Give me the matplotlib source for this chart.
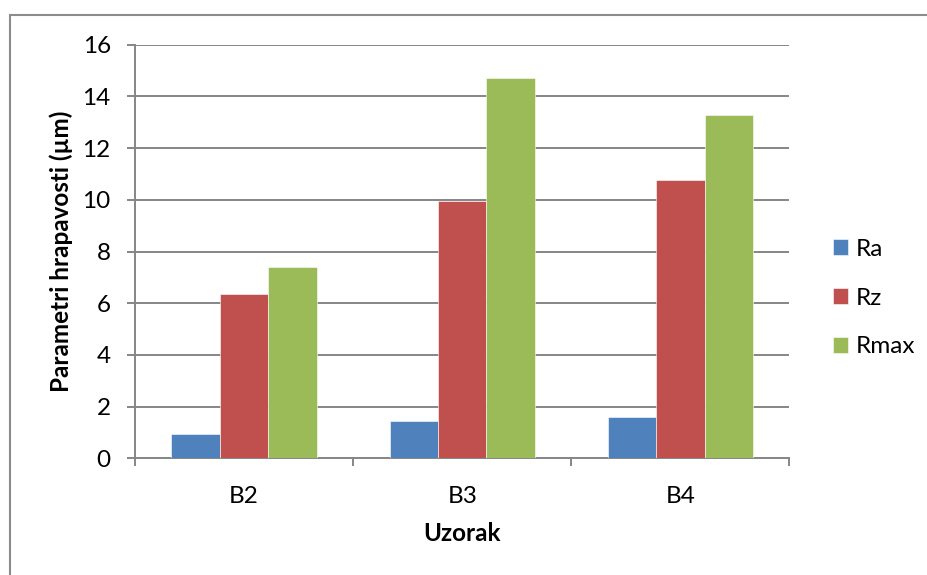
import numpy as np
import matplotlib
matplotlib.use("Agg")
import matplotlib.pyplot as plt
from matplotlib.patches import Rectangle

plt.rcParams["font.family"] = ["Lato", "DejaVu Sans"]

samples = ["B2", "B3", "B4"]
series_names = ["Ra", "Rz", "Rmax"]
ra_vals = [0.94, 1.46, 1.60]
rz_vals = [6.35, 9.97, 10.77]
rmax_vals = [7.39, 14.73, 13.28]
colors = ["#4F81BD", "#C0504D", "#9BBB59"]

W, H = 928, 575
fig = plt.figure(figsize=(W / 100, H / 100), dpi=100)
ax = fig.add_axes([135 / W, 1 - 458.3 / H, (789.5 - 135) / W, (458.3 - 44.7) / H])

# Rahmen um das Diagramm (rechts und unten abgeschnitten)
fig.patches.append(Rectangle((10 / W, -0.2), 1.5, 1.2 - 15 / H, transform=fig.transFigure,
                             fill=False, edgecolor="#8c8c8c", linewidth=1.5))

grid_color = "#868686"
x = np.arange(len(samples)) + 0.5
bar_w = 1 / 4.5
for i, (name, vals) in enumerate(zip(series_names, [ra_vals, rz_vals, rmax_vals])):
    ax.bar(x + (i - 1) * bar_w, vals, width=bar_w, color=colors[i], label=name,
           edgecolor="white", linewidth=0.4, zorder=3)

ax.set_xlim(0, 3)
ax.set_ylim(0, 16)
ax.set_yticks(np.arange(0, 17, 2))
ax.set_xticks(x)
ax.set_xticklabels(samples)
ax.set_xticks([0, 1, 2, 3], minor=True)

ax.yaxis.grid(True, color=grid_color, linewidth=1.4, zorder=0)
ax.set_axisbelow(True)
for side in ["top", "right"]:
    ax.spines[side].set_visible(False)
for side in ["left", "bottom"]:
    ax.spines[side].set_color(grid_color)
    ax.spines[side].set_linewidth(1.4)

ax.tick_params(axis="y", length=6, width=1.4, color=grid_color, pad=11.5, labelsize=17.5)
ax.tick_params(axis="x", which="major", length=0, pad=20, labelsize=17.5)
ax.tick_params(axis="x", which="minor", length=6, width=1.4, color=grid_color)

ax.set_ylabel("Parametri hrapavosti (µm)", fontsize=17.5, fontweight="bold", va="center")
ax.yaxis.set_label_coords((61 - 135) / (789.5 - 135), 0.5)
ax.set_xlabel("Uzorak", fontsize=17.5, fontweight="bold", va="center")
ax.xaxis.set_label_coords(0.5, -(533.5 - 458.3) / (458.3 - 44.7))

fig.legend(loc="center left", bbox_to_anchor=(821 / W, 1 - 298 / H), frameon=False,
           fontsize=17.5, handlelength=0.62, handleheight=0.62, handletextpad=0.3,
           labelspacing=1.15, borderpad=0)

fig.savefig("out.png", dpi=100)
